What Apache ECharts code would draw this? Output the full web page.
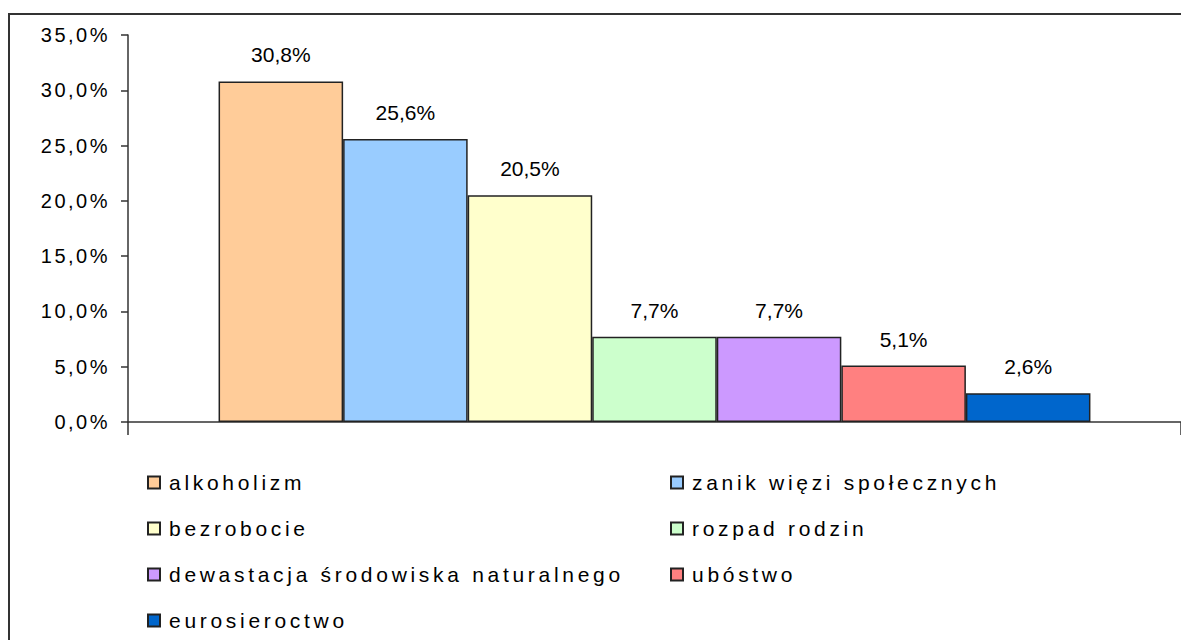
<!DOCTYPE html>
<html>
<head>
<meta charset="utf-8">
<script src="https://cdn.jsdelivr.net/npm/echarts@6/dist/echarts.min.js"></script>
<style>
html,body{margin:0;padding:0;background:#fff;}
#chart{width:1181px;height:640px;}
#chart text[style*="Liberation"][style*="21px"]{letter-spacing:3.7px;}
#chart text[style*="20px"]{letter-spacing:2.5px;}
</style>
</head>
<body>
<div id="chart"></div>
<script>
const categories = ['alkoholizm', 'zanik więzi społecznych', 'bezrobocie', 'rozpad rodzin',
  'dewastacja środowiska naturalnego', 'ubóstwo', 'eurosieroctwo'];
const values = [30.8, 25.6, 20.5, 7.7, 7.7, 5.1, 2.6];
const yTicks = { min: 0, max: 35, interval: 5 };
const colors = ['#FFCC99', '#99CCFF', '#FFFFCC', '#CCFFCC', '#CC99FF', '#FF8080', '#0066CC'];

const fmt = v => v.toFixed(1).replace('.', ',') + '%';

const series = categories.map((name, i) => ({
  name: name,
  type: 'bar',
  data: [values[i]],
  barGap: '0%',
  barCategoryGap: '17.2%',
  itemStyle: { color: colors[i], borderColor: '#222', borderWidth: 1.5 },
  label: {
    show: true, position: 'top', distance: 16,
    formatter: p => fmt(p.value),
    fontSize: 21, fontFamily: 'Arial', color: '#000'
  },
  emphasis: { disabled: true }
}));

const col1 = [categories[0], categories[2], categories[4], categories[6]];
const col2 = [categories[1], categories[3], categories[5]];
const legendBase = {
  orient: 'vertical', icon: 'rect', itemWidth: 12, itemHeight: 12, itemGap: 25,
  padding: 0, height: 200, width: 480,
  selectedMode: false,
  textStyle: { fontSize: 21, fontFamily: 'Liberation Sans', color: '#000', lineHeight: 20, padding: [0, 0, 0, 4] }
};

const chart = echarts.init(document.getElementById('chart'), null, { renderer: 'svg' });
chart.setOption({
  animation: false,
  backgroundColor: '#fff',
  graphic: [{
    type: 'rect', shape: { x: 9, y: 14, width: 1300, height: 800 },
    style: { fill: 'none', stroke: '#333', lineWidth: 2 }, silent: true, z: 100
  }],
  grid: { left: 128, right: 0, top: 35, bottom: 218, containLabel: false },
  legend: [
    Object.assign({}, legendBase, { left: 147, top: 472, data: col1 }),
    Object.assign({}, legendBase, { left: 670, top: 472, data: col2 })
  ],
  xAxis: {
    type: 'category', data: [''],
    axisLine: { lineStyle: { color: '#333', width: 1.5 } },
    axisTick: { show: true, length: 13, lineStyle: { color: '#333', width: 1.5 } },
    axisLabel: { show: false }
  },
  yAxis: {
    type: 'value', min: yTicks.min, max: yTicks.max, interval: yTicks.interval,
    axisLine: { show: true, lineStyle: { color: '#333', width: 1.5 } },
    axisTick: { show: true, length: 7, lineStyle: { color: '#333', width: 1.5 } },
    splitLine: { show: false },
    axisLabel: { margin: 18, fontSize: 20, fontFamily: 'Liberation Sans', color: '#000', formatter: v => fmt(v) }
  },
  series: series
});
</script>
</body>
</html>
